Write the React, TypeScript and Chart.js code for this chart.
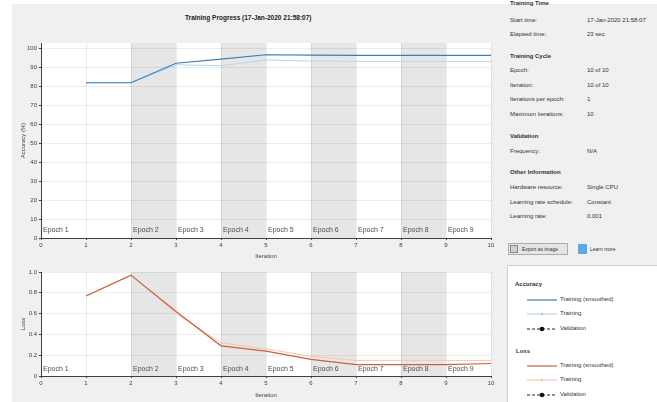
import React, { useEffect, useRef } from 'react';
import { Chart, registerables } from 'chart.js';
Chart.register(...registerables);

const iterations = [1, 2, 3, 4, 5, 6, 7, 8, 9, 10];
const accSmoothed = [82, 82, 92.3, 94.5, 96.8, 96.6, 96.5, 96.5, 96.5, 96.5];
const accTraining = [82, 82, 91.5, 91, 94, 93.5, 93.3, 93.3, 93.3, 93.3];
const lossSmoothed = [0.77, 0.97, 0.62, 0.29, 0.24, 0.16, 0.11, 0.11, 0.11, 0.12];
const lossTraining = [0.77, 0.97, 0.6, 0.32, 0.26, 0.19, 0.15, 0.15, 0.15, 0.15];
const epochLabels = ['Epoch 1', 'Epoch 2', 'Epoch 3', 'Epoch 4', 'Epoch 5', 'Epoch 6', 'Epoch 7', 'Epoch 8', 'Epoch 9'];
const epochStarts = [0, 2, 3, 4, 5, 6, 7, 8, 9];
const epochEnds = [2, 3, 4, 5, 6, 7, 8, 9, 10];
const xTicks = [0, 1, 2, 3, 4, 5, 6, 7, 8, 9, 10];
const accTicks = [0, 10, 20, 30, 40, 50, 60, 70, 80, 90, 100];
const lossTicks = [0, 0.2, 0.4, 0.6, 0.8, 1];

const FONT = '"Liberation Sans", Arial, sans-serif';

const bandsPlugin = {
  id: 'bands',
  beforeDraw(chart: any) {
    const { ctx, chartArea, scales } = chart;
    const { left, right, top, bottom } = chartArea;
    const x = scales.x;
    ctx.save();
    ctx.fillStyle = '#ffffff';
    ctx.fillRect(left, top, right - left, bottom - top);
    epochStarts.forEach((s, i) => {
      if (i % 2 === 1) {
        const x0 = x.getPixelForValue(s);
        const x1 = x.getPixelForValue(epochEnds[i]);
        ctx.fillStyle = '#e6e6e6';
        ctx.fillRect(x0, top, x1 - x0, bottom - top);
      }
    });
    ctx.restore();
  },
  beforeDatasetsDraw(chart: any, _args: any, opts: any) {
    const { ctx, chartArea, scales } = chart;
    const x = scales.x;
    ctx.save();
    ctx.font = `7px ${FONT}`;
    ctx.fillStyle = '#4d4d4d';
    ctx.textBaseline = 'alphabetic';
    ctx.textAlign = 'left';
    epochLabels.forEach((l, i) => {
      ctx.fillText(l, x.getPixelForValue(epochStarts[i]) + 2, chartArea.bottom - (opts.labelOffset || 6));
    });
    ctx.restore();
  },
};

function makeConfig(kind: 'acc' | 'loss'): any {
  const isAcc = kind === 'acc';
  const top = isAcc ? 43 : 10;
  const bottomAxis = isAcc ? 24 : 26;
  const yTicks = isAcc ? accTicks : lossTicks;
  return {
    type: 'line',
    data: {
      labels: iterations,
      datasets: isAcc
        ? [
            { data: iterations.map((it, i) => ({ x: it, y: accSmoothed[i] })), borderColor: '#3a7fb8', borderWidth: 1.2, pointRadius: 0 },
            { data: iterations.map((it, i) => ({ x: it, y: accTraining[i] })), borderColor: '#b6d6ec', borderWidth: 1, pointRadius: 0 },
          ]
        : [
            { data: iterations.map((it, i) => ({ x: it, y: lossSmoothed[i] })), borderColor: '#c8613e', borderWidth: 1.2, pointRadius: 0 },
            { data: iterations.map((it, i) => ({ x: it, y: lossTraining[i] })), borderColor: '#f3c6b2', borderWidth: 1, pointRadius: 0 },
          ],
    },
    options: {
      responsive: false,
      animation: false,
      devicePixelRatio: 1,
      layout: { padding: { top, right: 6, left: 0, bottom: 0 } },
      plugins: {
        legend: { display: false },
        tooltip: { enabled: false },
        bands: { labelOffset: isAcc ? 6.5 : 5 },
      },
      scales: {
        x: {
          type: 'linear',
          min: 0,
          max: 10,
          afterBuildTicks: (s: any) => { s.ticks = xTicks.map((v) => ({ value: v })); },
          afterFit: (s: any) => { s.height = bottomAxis; },
          ticks: { font: { size: 6, family: FONT }, color: '#404040', padding: 2, maxRotation: 0 },
          grid: { color: 'rgba(0,0,0,0.07)', tickLength: 2, tickColor: '#404040' },
          border: { color: '#404040', width: 1 },
          title: { display: true, text: 'Iteration', font: { size: 6, family: FONT }, color: '#404040', padding: { top: 0, bottom: isAcc ? 2.4 : 3.4 } },
        },
        y: {
          type: 'linear',
          min: 0,
          max: isAcc ? 103 : 1,
          afterBuildTicks: (s: any) => { s.ticks = yTicks.map((v) => ({ value: v })); },
          afterFit: (s: any) => { s.width = 41; },
          ticks: { font: { size: 6, family: FONT }, color: '#404040', padding: 2 },
          grid: { color: 'rgba(0,0,0,0.07)', tickLength: 2, tickColor: '#404040' },
          border: { color: '#404040', width: 1 },
          title: { display: true, text: isAcc ? 'Accuracy (%)' : 'Loss', font: { size: 6, family: FONT }, color: '#404040', padding: { top: 19.5, bottom: 0 } },
        },
      },
    },
    plugins: [bandsPlugin],
  };
}

function ChartCanvas({ kind, top, height }: { kind: 'acc' | 'loss'; top: number; height: number }) {
  const ref = useRef<HTMLCanvasElement>(null);
  useEffect(() => {
    const c = new Chart(ref.current as HTMLCanvasElement, makeConfig(kind));
    return () => c.destroy();
  }, [kind]);
  return <canvas ref={ref} width={497} height={height} style={{ position: 'absolute', left: 0, top, width: 497, height }} />;
}

const infoRows: { t: string; y: number; v?: string; bold?: boolean }[] = [
  { t: 'Training Time', y: 4, bold: true },
  { t: 'Start time:', y: 20.5, v: '17-Jan-2020 21:58:07' },
  { t: 'Elapsed time:', y: 34.7, v: '23 sec' },
  { t: 'Training Cycle', y: 57, bold: true },
  { t: 'Epoch:', y: 71, v: '10 of 10' },
  { t: 'Iteration:', y: 85.5, v: '10 of 10' },
  { t: 'Iterations per epoch:', y: 100, v: '1' },
  { t: 'Maximum iterations:', y: 114.5, v: '10' },
  { t: 'Validation', y: 136.7, bold: true },
  { t: 'Frequency:', y: 151.7, v: 'N/A' },
  { t: 'Other Information', y: 173, bold: true },
  { t: 'Hardware resource:', y: 188, v: 'Single CPU' },
  { t: 'Learning rate schedule:', y: 202.5, v: 'Constant' },
  { t: 'Learning rate:', y: 217, v: '0.001' },
];

function Txt({ x, y, children, bold, size = 6, color = '#333' }: any) {
  return (
    <div style={{ position: 'absolute', left: x, top: y - size * 0.6, fontSize: size, lineHeight: `${size * 1.2}px`, fontWeight: bold ? 'bold' : 'normal', color, whiteSpace: 'nowrap' }}>
      {children}
    </div>
  );
}

function LegendLine({ y, color, kind }: { y: number; color: string; kind: 'smooth' | 'train' | 'val' }) {
  return (
    <svg style={{ position: 'absolute', left: 527, top: y - 4 }} width={31} height={8}>
      {kind === 'smooth' && <line x1={0} y1={4} x2={30} y2={4} stroke={color} strokeWidth={1.2} />}
      {kind === 'train' && (
        <>
          <line x1={0} y1={4} x2={30} y2={4} stroke={color} strokeWidth={1} />
          <circle cx={15} cy={4} r={1.2} fill={color} />
        </>
      )}
      {kind === 'val' && (
        <>
          <line x1={0} y1={4} x2={30} y2={4} stroke="#222" strokeWidth={1} strokeDasharray="3,2" />
          <circle cx={15} cy={4} r={2.3} fill="#111" />
        </>
      )}
    </svg>
  );
}

export default function App() {
  return (
    <div style={{ position: 'fixed', left: 0, top: 0, width: 657, height: 402, background: '#ffffff', overflow: 'hidden', fontFamily: FONT }}>
      <div style={{ position: 'absolute', left: 12, top: 4, width: 645, height: 398, background: '#f0f0f0' }} />
      <Txt x={185} y={17.5} bold size={6.5} color="#222">Training Progress (17-Jan-2020 21:58:07)</Txt>
      <ChartCanvas kind="acc" top={0} height={262} />
      <ChartCanvas kind="loss" top={262} height={140} />
      {infoRows.map((r, i) => (
        <React.Fragment key={i}>
          <Txt x={510} y={r.y} bold={r.bold}>{r.t}</Txt>
          {r.v && <Txt x={587} y={r.y}>{r.v}</Txt>}
        </React.Fragment>
      ))}
      <div style={{ position: 'absolute', left: 508, top: 243, width: 60, height: 12, background: '#e5e5e5', border: '1px solid #adadad', boxSizing: 'border-box' }} />
      <div style={{ position: 'absolute', left: 510, top: 245, width: 8, height: 8, background: '#d0d0d0', border: '1px solid #888', boxSizing: 'border-box' }} />
      <Txt x={522} y={249} size={5}>Export as image</Txt>
      <div style={{ position: 'absolute', left: 578, top: 244, width: 9, height: 10, background: '#5aa9e6', borderRadius: 1 }} />
      <Txt x={590} y={249} size={5}>Learn more</Txt>
      <div style={{ position: 'absolute', left: 507, top: 265, width: 152, height: 140, background: '#ffffff', border: '1px solid #cfcfcf', boxSizing: 'border-box' }} />
      <Txt x={515} y={285} bold>Accuracy</Txt>
      <LegendLine y={299.5} color="#3a7fb8" kind="smooth" />
      <Txt x={560} y={299.5}>Training (smoothed)</Txt>
      <LegendLine y={314} color="#a9cde6" kind="train" />
      <Txt x={560} y={314}>Training</Txt>
      <LegendLine y={328.5} color="#222" kind="val" />
      <Txt x={560} y={328.5}>Validation</Txt>
      <Txt x={516} y={351.5} bold>Loss</Txt>
      <LegendLine y={365.5} color="#c8613e" kind="smooth" />
      <Txt x={560} y={365.5}>Training (smoothed)</Txt>
      <LegendLine y={380} color="#f1c0ab" kind="train" />
      <Txt x={560} y={380}>Training</Txt>
      <LegendLine y={394.5} color="#222" kind="val" />
      <Txt x={560} y={394.5}>Validation</Txt>
    </div>
  );
}
